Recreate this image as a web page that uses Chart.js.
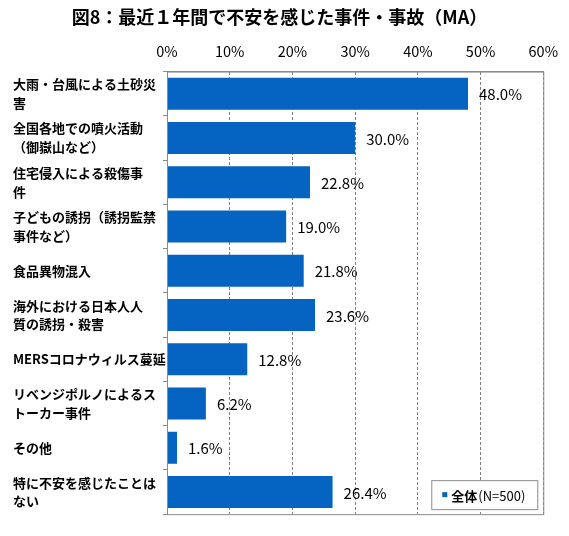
<!DOCTYPE html>
<html>
<head>
<meta charset="utf-8">
<script src="https://cdn.jsdelivr.net/npm/chart.js@4"></script>
<style>
    html, body { margin: 0; padding: 0; background: #fff; }
    #wrap { width: 569px; height: 536px; position: relative; }
</style>
</head>
<body>
<div id="wrap"><canvas id="incidentChart"></canvas></div>
<script>
const categories = [
    ["大雨・台風による土砂災", "害"],
    ["全国各地での噴火活動", "（御嶽山など）"],
    ["住宅侵入による殺傷事", "件"],
    ["子どもの誘拐（誘拐監禁", "事件など）"],
    "食品異物混入",
    ["海外における日本人人", "質の誘拐・殺害"],
    "MERSコロナウィルス蔓延",
    ["リベンジポルノによるス", "トーカー事件"],
    "その他",
    ["特に不安を感じたことは", "ない"]
];
const allValues = [48.0, 30.0, 22.8, 19.0, 21.8, 23.6, 12.8, 6.2, 1.6, 26.4];
const xTicks = [0, 10, 20, 30, 40, 50, 60];
const seriesName = "全体";
const sampleNote = "(N=500)";

const FONT = "'Noto Sans CJK JP', 'Noto Sans', sans-serif";
const BAR_COLOR = "#0563c1";

// frame around the plot area
const frameBox = {
    id: "frameBox",
    afterDatasetsDraw(chart) {
        const { ctx, chartArea: a } = chart;
        ctx.save();
        ctx.strokeStyle = "#8c8c8c";
        ctx.lineWidth = 1;
        ctx.strokeRect(a.left + 0.5, a.top + 0.5, a.right - a.left, a.bottom - a.top);
        ctx.restore();
    }
};

// value labels at the bar ends
const valueLabels = {
    id: "valueLabels",
    afterDatasetsDraw(chart) {
        const { ctx } = chart;
        const meta = chart.getDatasetMeta(0);
        ctx.save();
        ctx.font = "15px " + FONT;
        ctx.fillStyle = "#000";
        ctx.textAlign = "left";
        ctx.textBaseline = "middle";
        meta.data.forEach((bar, i) => {
            ctx.fillText(allValues[i].toFixed(1) + "%", bar.x + 11, bar.y + 1);
        });
        ctx.restore();
    }
};

// legend box inside the plot, bottom right
const boxLegend = {
    id: "boxLegend",
    afterDraw(chart) {
        const { ctx, chartArea: a } = chart;
        const w = 106, h = 29;
        const x = a.right - 6 - w, y = a.bottom - 5 - h;
        ctx.save();
        ctx.fillStyle = "#fff";
        ctx.fillRect(x, y, w, h);
        ctx.strokeStyle = "#8c8c8c";
        ctx.strokeRect(x + 0.5, y + 0.5, w, h);
        ctx.fillStyle = BAR_COLOR;
        ctx.fillRect(x + 11, y + 12, 5, 5);
        ctx.fillStyle = "#000";
        ctx.textBaseline = "middle";
        ctx.font = "bold 13px " + FONT;
        ctx.fillText(seriesName, x + 20, y + h / 2 + 1);
        const tw = ctx.measureText(seriesName).width;
        ctx.font = "13px " + FONT;
        ctx.fillText(sampleNote, x + 21 + tw, y + h / 2 + 1);
        ctx.restore();
    }
};

new Chart(document.getElementById("incidentChart"), {
    type: "bar",
    data: {
        labels: categories,
        datasets: [{
            label: seriesName,
            data: allValues,
            backgroundColor: BAR_COLOR,
            barPercentage: 0.72,
            categoryPercentage: 1
        }]
    },
    options: {
        indexAxis: "y",
        responsive: true,
        maintainAspectRatio: false,
        animation: false,
        layout: { padding: { left: 13, right: 23, top: 0, bottom: 9 } },
        scales: {
            x: {
                position: "top",
                min: 0,
                max: 60,
                afterBuildTicks: (s) => { s.ticks = xTicks.map((v) => ({ value: v })); },
                afterFit: (s) => { s.height = 33; },
                grid: {
                    color: "#808080",
                    drawTicks: false
                },
                border: { display: true, color: "#8c8c8c", dash: [3, 2] },
                ticks: {
                    padding: 11,
                    color: "#000",
                    font: { family: FONT, size: 14.5 },
                    callback: (v) => v + "%"
                }
            },
            y: {
                afterFit: (s) => { s.width = 154; },
                grid: {
                    offset: true,
                    drawOnChartArea: false,
                    tickLength: 4,
                    color: "#8c8c8c"
                },
                border: { color: "#8c8c8c" },
                ticks: {
                    crossAlign: "far",
                    color: "#000",
                    font: { family: FONT, size: 13, weight: "bold", lineHeight: 1.45 }
                }
            }
        },
        plugins: {
            legend: { display: false },
            tooltip: { enabled: false },
            title: {
                display: true,
                text: "図8：最近１年間で不安を感じた事件・事故（MA）",
                color: "#000",
                font: { family: FONT, size: 18, weight: "bold" },
                padding: { top: 6, bottom: 11 }
            }
        }
    },
    plugins: [frameBox, valueLabels, boxLegend]
});
</script>
</body>
</html>
